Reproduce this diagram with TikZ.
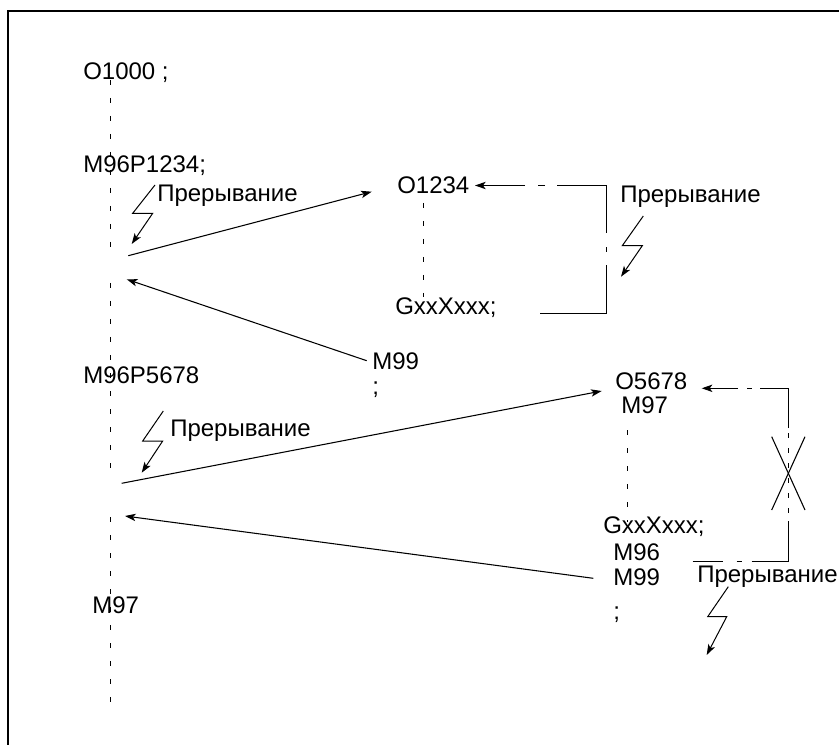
\documentclass[tikz,border=0pt]{standalone}
\usepackage{fontspec}
\setmainfont{Liberation Sans}
\usetikzlibrary{arrows.meta}
\begin{document}
\begin{tikzpicture}[x=0.75pt,y=-0.75pt,
  txt/.style={anchor=base west,inner sep=0pt,font=\fontsize{18pt}{21pt}\selectfont},
  conn/.style={line width=0.8pt},
  arr/.style={conn,-{Stealth[length=8pt,width=5.5pt,inset=2pt]}},
  vdash/.style={line width=0.75pt,dash pattern=on 3.75pt off 9.75pt},
  fdash/.style={line width=0.75pt,dash pattern=on 3.75pt off 7.5pt},
  bolt/.style={line width=0.75pt,-{Stealth[length=8pt,width=5.5pt,inset=2pt]}}]
\useasboundingbox (0,0) rectangle (839,745);
% frame
\draw[line width=1.5pt] (8,745) -- (8,11) -- (839,11);

% texts
\node[txt] (o1000) at (83,80) {O1000 ;};
\node[txt] (m96a) at (83,172.7) {M96P1234;};
\node[txt] (int1) at (157,201.5) {Прерывание};
\node[txt] (o1234) at (397,193.3) {O1234};
\node[txt] (int2) at (620,202.3) {Прерывание};
\node[txt] (gx1) at (395,315) {GxxXxxx;};
\node[txt] (m99a) at (372,369.3) {M99};
\node[txt] (semi1) at (372,394) {;};
\node[txt] (m96b) at (83,383) {M96P5678};
\node[txt] (int3) at (170,436.7) {Прерывание};
\node[txt,text depth=0pt] (o5678) at (615,389.5) {O5678};
\node[txt,text height=13pt] (m97a) at (621,413.5) {M97};
\node[txt] (gx2) at (603,533.3) {GxxXxxx;};
\node[txt] (m96c) at (613,560) {M96};
\node[txt] (m99b) at (613,585) {M99};
\node[txt] (semi2) at (613,619) {;};
\node[txt] (int4) at (697,582.7) {Прерывание};
\node[txt] (m97b) at (92,613.3) {M97};

% main dashed line
\coordinate (l1a) at (110,80);
\coordinate (l1b) at (110,254);
\coordinate (l2a) at (110,283);
\coordinate (l2b) at (110,473);
\coordinate (l3a) at (110,517);
\coordinate (l3b) at (110,715);
\draw[vdash] (l1a) -- (l1b);
\draw[vdash] (l2a) -- (l2b);
\draw[vdash] (l3a) -- (l3b);

% sub-program dashed lines
\coordinate (s1a) at (423.3,203);
\coordinate (s1b) at (423.3,297);
\draw[vdash] (s1a) -- (s1b);
\coordinate (s2a) at (627.7,430);
\coordinate (s2b) at (627.7,522);
\draw[vdash] (s2a) -- (s2b);

% calls and returns
\coordinate (out1s) at (128.3,255.7);
\coordinate (out1e) at (371.7,191.7);
\coordinate (ret1s) at (366.7,360.7);
\coordinate (ret1e) at (126.7,279.3);
\coordinate (out2s) at (121.7,483.3);
\coordinate (out2e) at (601.7,391);
\coordinate (ret2s) at (593.3,578.3);
\coordinate (ret2e) at (125,516);
\draw[arr] (out1s) -- (out1e);
\draw[arr] (ret1s) -- (ret1e);
\draw[arr] (out2s) -- (out2e);
\draw[arr] (ret2s) -- (ret2e);

% interrupt loop 1
\coordinate (p1a) at (540,313.3);
\coordinate (p1b) at (606.7,313.3);
\coordinate (p1c) at (606.7,185.5);
\coordinate (p1d) at (475,185.5);
\draw[conn] (p1a) -- (p1b) -- (606.7,265);
\draw[conn] (606.7,252) -- (606.7,246.7);
\draw[conn] (606.7,233) -- (p1c) -- (557,185.5);
\draw[conn] (545,185.5) -- (538,185.5);
\draw[arr] (525,185.5) -- (p1d);

% interrupt loop 2
\coordinate (p2a) at (692.7,561.7);
\coordinate (p2b) at (788.3,561.7);
\coordinate (p2c) at (788.3,388.3);
\coordinate (p2d) at (701.7,388.3);
\draw[conn] (p2a) -- (723,561.7);
\draw[conn] (736.7,561.7) -- (741.7,561.7);
\draw[conn] (751.7,561.7) -- (p2b) -- (788.3,521);
\draw[fdash] (788.3,433) -- (788.3,516);
\draw[conn] (788.3,428) -- (p2c) -- (760,388.3);
\draw[conn] (751.7,388.3) -- (746.7,388.3);
\draw[arr] (738,388.3) -- (p2d);
% cross
\draw[conn] (771.7,436.7) -- (805,510);
\draw[conn] (805,436.7) -- (771.7,510);

% lightning bolts
\draw[bolt] (155,185) -- (132.7,213.3) -- (152.7,213.3) -- (131.7,244);
\draw[bolt] (643.3,216) -- (622.3,245.7) -- (642.3,245.7) -- (621,276.7);
\draw[bolt] (163.3,411) -- (142.7,441) -- (162.7,441) -- (141.7,472.7);
\draw[bolt] (728.3,586.7) -- (707.7,616.7) -- (726.7,616.7) -- (706.7,655);
\end{tikzpicture}
\end{document}
